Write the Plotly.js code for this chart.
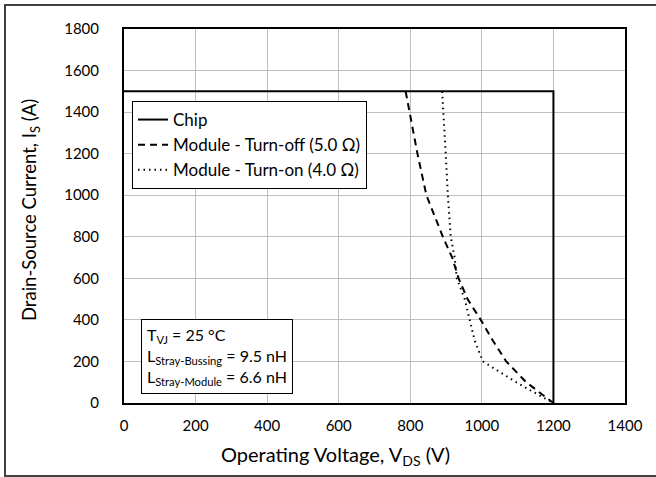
<!DOCTYPE html>
<html>
<head>
<meta charset="utf-8">
<script src="https://cdn.plot.ly/plotly-3.0.1.min.js"></script>
<style>html,body{margin:0;padding:0;background:#fff;}</style>
</head>
<body>
<div id="chart" style="width:656px;height:477px;"></div>
<script>
// Data
const chipV = [0, 1200, 1200];
const chipI = [1500, 1500, 0];
const offV = [787, 798, 820, 845, 891, 917, 935, 960, 997, 1031, 1068, 1124, 1200];
const offI = [1500, 1400, 1200, 1000, 800, 700, 600, 500, 400, 300, 200, 100, 0];
const onV = [889, 893, 899, 905, 913, 924, 930, 952, 966, 980, 1003, 1096, 1152, 1200];
const onI = [1500, 1400, 1200, 1000, 800, 700, 600, 500, 400, 300, 200, 100, 45, 0];
const xTicks = [0, 200, 400, 600, 800, 1000, 1200, 1400];
const yTicks = [0, 200, 400, 600, 800, 1000, 1200, 1400, 1600, 1800];
const seriesNames = ["Chip", "Module - Turn-off (5.0 Ω)", "Module - Turn-on (4.0 Ω)"];
const xTitle = 'Operating Voltage, V<sub>DS</sub> (V)';
const yTitle = 'Drain-Source Current, I<sub>S</sub> (A)';
const noteText = 'T<sub>VJ</sub> = 25 °C<br>L<sub>Stray-Bussing</sub> = 9.5 nH<br>L<sub>Stray-Module</sub> = 6.6 nH';

const FONT = "Lato, 'Open Sans', sans-serif";
const L = 124, R = 31, T = 29, B = 74;
const PW = 656 - L - R, PH = 477 - T - B;
const px = x => (x - L) / PW;
const py = y => (477 - B - y) / PH;

const traces = [
  {x: chipV, y: chipI, mode: 'lines', name: seriesNames[0], line: {color: '#000', width: 2}},
  {x: offV, y: offI, mode: 'lines', name: seriesNames[1], line: {color: '#000', width: 2, dash: '7px,5px'}},
  {x: onV, y: onI, mode: 'lines', name: seriesNames[2], line: {color: '#000', width: 2, dash: '1.5px,4px'}}
];

const layout = {
  width: 656, height: 477,
  margin: {l: L, r: R, t: T, b: B},
  paper_bgcolor: '#fff', plot_bgcolor: '#fff',
  font: {family: FONT, size: 15, color: '#000'},
  showlegend: true,
  legend: {
    x: px(132), y: py(101), xanchor: 'left', yanchor: 'top',
    bgcolor: '#fff', bordercolor: '#000', borderwidth: 1,
    font: {family: FONT, size: 17, color: '#000'},
    tracegroupgap: 0, itemwidth: 30
  },
  xaxis: {
    range: [0, 1400], tickvals: xTicks, ticktext: xTicks.map(String),
    showgrid: true, gridcolor: '#bfbfbf', gridwidth: 1,
    showline: true, mirror: true, linecolor: '#000', linewidth: 2,
    zeroline: false, ticks: '', ticklabelstandoff: 8,
    tickfont: {family: FONT, size: 15, color: '#000'}
  },
  yaxis: {
    range: [0, 1800], tickvals: yTicks, ticktext: yTicks.map(String),
    showgrid: true, gridcolor: '#bfbfbf', gridwidth: 1,
    showline: true, mirror: true, linecolor: '#000', linewidth: 2,
    zeroline: false, ticks: '', ticklabelstandoff: 20,
    tickfont: {family: FONT, size: 15, color: '#000'}
  },
  annotations: [{
    xref: 'paper', yref: 'paper', x: px(141), y: py(394), xanchor: 'left', yanchor: 'bottom',
    align: 'left', showarrow: false, text: noteText,
    font: {family: FONT, size: 16, color: '#000'},
    bgcolor: '#fff', bordercolor: '#000', borderwidth: 1, borderpad: 5
  }, {
    xref: 'paper', yref: 'paper', x: px(335), y: py(456), xanchor: 'center', yanchor: 'middle',
    showarrow: false, text: xTitle, font: {family: FONT, size: 20, color: '#000'}
  }, {
    xref: 'paper', yref: 'paper', x: px(30), y: py(210), xanchor: 'center', yanchor: 'middle',
    showarrow: false, textangle: -90, text: yTitle, font: {family: FONT, size: 18.5, color: '#000'}
  }],
  shapes: [{
    type: 'rect', xref: 'paper', yref: 'paper', layer: 'above',
    x0: px(5), x1: px(660), y0: py(5), y1: py(476),
    line: {color: '#404040', width: 2}, fillcolor: 'rgba(0,0,0,0)'
  }]
};

Plotly.newPlot('chart', traces, layout, {displayModeBar: false, staticPlot: true});
</script>
</body>
</html>
